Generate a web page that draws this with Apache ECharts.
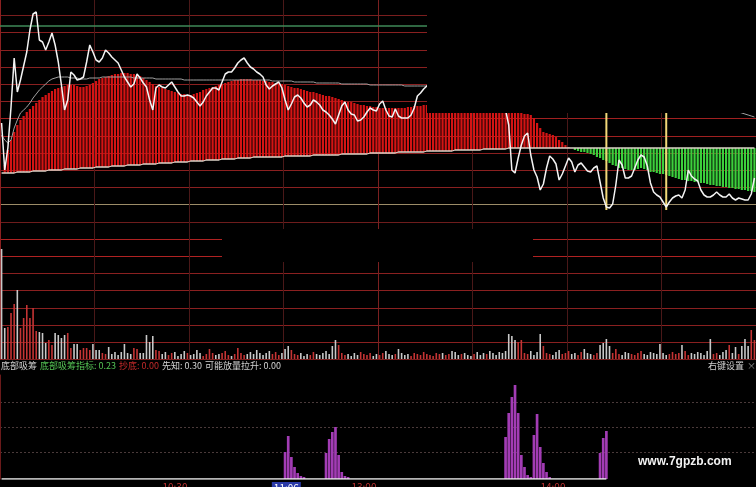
<!DOCTYPE html>
<html><head><meta charset="utf-8">
<script src="https://cdn.jsdelivr.net/npm/echarts/dist/echarts.min.js"></script>
<style>html,body{margin:0;padding:0;background:#000;}#c{width:756px;height:487px;}</style>
</head><body><div id="c"></div>
<script>
// ---- categories: trading minutes ----
const sessionOpenings = ['09:31', '13:01'];
const minutesPerSession = 120;
const times = [];
sessionOpenings.forEach(s => {
  const [h, m] = s.split(':').map(Number);
  for (let k = 0; k < minutesPerSession; k++) {
    const t = h * 60 + m + k;
    times.push(String(Math.floor(t / 60)).padStart(2, '0') + ':' + String(t % 60).padStart(2, '0'));
  }
});
const tickLabels = { '10:30': '10:30', '11:06': '11:06', '11:30': '13:00', '14:00': '14:00' };
const cursorTime = '11:06';

// ---- price panel (levels, larger = lower on screen) ----
const price = [
123,170,148,107,58,92,80,66,52,30,
14,12,40,42,50,42,33,45,62,85,
110,100,72,75,80,79,77,62,45,52,
60,62,58,50,53,57,60,63,70,77,
82,87,84,74,78,83,87,100,110,88,
85,87,88,85,82,87,92,96,96,95,
96,98,102,106,102,96,92,88,88,90,
82,74,72,72,68,63,60,58,63,67,
69,72,74,77,85,89,86,84,82,88,
100,110,104,97,95,98,103,107,105,100,
102,105,110,112,115,119,124,115,106,102,
110,114,115,121,120,117,112,108,110,111,
104,101,110,116,117,109,116,118,118,118,
115,108,96,93,89,86,84,82,80,78,
80,76,74,78,80,82,79,84,86,88,
85,90,92,95,93,98,100,104,106,110,
110,125,170,173,158,145,136,133,155,170,
177,190,184,168,156,159,164,180,174,166,
158,162,172,165,163,167,171,172,168,166,
182,198,207,208,204,185,160,165,178,178,
176,168,160,155,157,166,183,192,195,197,
202,207,202,198,196,195,198,190,170,176,
179,181,190,195,197,197,195,192,195,197,
197,194,198,200,198,199,200,200,194,178];

const avgPrice = [
135,140,143,140,128,120,113,110,107,103,
98,94,90,87,84,81,79,78,77,77,
77,77,78,78,78,79,79,79,78,78,
78,78,77,77,77,77,77,77,77,77,
77,77,78,78,78,78,78,78,78,79,
79,79,79,79,79,79,79,79,80,80,
80,80,80,80,80,80,80,80,80,80,
80,80,80,80,80,80,80,80,80,80,
80,80,80,80,80,80,81,81,81,81,
81,81,81,82,82,82,82,82,82,82,
83,83,83,83,83,83,83,83,84,84,
84,84,84,84,84,84,84,85,85,85,
85,85,85,85,85,85,85,85,86,86,
86,86,86,86,86,86,86,86,87,87,
87,87,88,88,88,88,89,89,89,90,
90,90,91,91,91,92,92,93,93,94,
94,95,95,96,96,97,97,97,98,98,
98,99,99,99,100,100,100,100,101,101,
101,101,102,102,102,102,102,103,103,103,
103,103,104,104,104,104,104,105,105,105,
105,105,105,106,106,106,106,106,107,107,
107,107,107,108,108,108,108,108,109,109,
109,109,109,110,110,110,110,110,111,111,
111,111,112,112,112,113,114,115,116,117];

const costLine = [
173,173,173,173,173,172,172,172,172,172,
171,171,171,171,171,170,170,170,170,170,
169,169,169,169,169,168,168,168,168,168,
167,167,167,167,167,166,166,166,166,166,
165,165,165,165,165,164,164,164,164,164,
163,163,163,163,163,162,162,162,162,162,
161,161,161,161,161,160,160,160,160,160,
159,159,159,159,159,158,158,158,158,158,
157,157,157,157,157,157,157,157,157,157,
156,156,156,156,156,156,156,156,156,155,
155,155,155,155,155,155,155,155,154,154,
154,154,154,154,154,154,154,153,153,153,
153,153,153,153,153,153,152,152,152,152,
152,152,152,152,152,151,151,151,151,151,
151,151,151,151,150,150,150,150,150,150,
150,150,150,149,149,149,149,149,149,149,
149,148,148,148,148,148,148,148,148,148,
148,148,148,148,148,148,148,148,148,148,
148,148,148,148,148,148,148,148,148,148,
148,148,148,148,148,148,148,148,148,148,
148,148,148,148,148,148,148,148,148,148,
148,148,148,148,148,148,148,148,148,148,
148,148,148,148,148,148,148,148,148,148,
148,148,148,148,148,148,148,148,148,148];

// red accumulation bars: top level (from 09:31)
const redTop = [
173,165,150,140,132,125,120,116,112,109,
106,103,100,97,95,93,91,89,88,87,
86,85,85,85,86,87,87,86,85,83,
81,79,78,77,76,75,74,74,73,73,
73,74,74,75,76,78,80,82,84,86,
87,88,89,90,91,92,93,94,94,95,
95,94,93,92,90,89,88,87,86,85,
84,83,82,81,80,80,79,79,79,79,
80,80,80,81,81,82,82,83,83,84,
85,86,87,88,88,89,90,91,92,92,
93,94,95,96,96,97,98,99,100,101,
102,102,103,104,105,105,106,106,107,107,
108,108,108,108,108,108,108,108,108,107,
107,106,106,106,105,105,104,103,103,102,
102,101,101,101,100,100,100,100,101,101,
102,102,103,104,105,106,107,108,109,110,
111,112,112,113,113,113,114,114,115,118,
123,128,132,133,134,135,137,140,142,145,
147,148];

// green distribution bars: bottom level (from 14:02)
const greenStartTime = '14:02';
const greenBottom = [
148,150,151,152,152,153,154,155,157,158,
160,161,163,165,166,168,168,169,170,170,
170,169,168,169,170,172,172,173,174,174,
175,176,177,178,179,180,180,181,181,182,
182,183,183,184,185,185,186,186,187,187,
188,188,189,189,190,190,191,191,192];

// yellow signal markers
const signalTimes = ['14:13', '14:32'];
const signalLevels = [210, 210];
const greenRefLevel = 26;

// ---- volume ----
const volume = [
110,31,32,46,55,69,31,41,54,41,
51,28,27,26,16,19,14,26,24,21,
24,26,11,15,15,9,11,11,9,15,
9,9,6,5,12,5,7,4,7,15,
6,5,11,10,6,6,24,17,23,9,
8,5,7,4,6,7,3,5,8,6,
4,5,9,6,3,5,10,6,4,5,
6,8,4,3,5,11,6,4,5,7,
5,9,6,4,6,8,5,7,4,6,
10,13,9,5,4,6,3,5,4,7,
5,4,6,8,5,13,19,14,6,4,
5,3,6,4,7,5,4,6,3,5,
4,6,8,5,4,5,10,6,4,5,
3,6,5,4,7,5,4,3,6,5,
6,4,5,8,7,4,5,6,4,3,
5,7,4,6,5,8,6,4,7,6,
8,25,23,19,17,19,6,5,8,4,
7,25,13,6,5,4,7,9,5,6,
8,5,6,4,7,10,6,5,4,6,
14,16,20,13,6,10,5,4,7,6,
5,4,6,8,5,4,7,6,5,15,
6,4,5,7,5,6,14,8,4,6,
5,7,6,4,8,20,5,6,4,7,
9,14,6,12,5,13,20,13,29,19];

// ---- lower indicator ----
const bottomSignal = [
0,0,0,0,0,0,0,0,0,0,
0,0,0,0,0,0,0,0,0,0,
0,0,0,0,0,0,0,0,0,0,
0,0,0,0,0,0,0,0,0,0,
0,0,0,0,0,0,0,0,0,0,
0,0,0,0,0,0,0,0,0,0,
0,0,0,0,0,0,0,0,0,0,
0,0,0,0,0,0,0,0,0,0,
0,0,0,0,0,0,0,0,0,0,
27,43,22,12,6,3,2,0,0,0,
0,0,0,26,40,47,52,24,7,3,
2,0,0,0,0,0,0,0,0,0,
0,0,0,0,0,0,0,0,0,0,
0,0,0,0,0,0,0,0,0,0,
0,0,0,0,0,0,0,0,0,0,
0,0,0,0,0,0,0,0,0,0,
42,66,82,94,66,24,12,4,2,44,
65,32,16,7,2,0,0,0,0,0,
0,0,0,0,0,0,0,0,0,0,
26,41,48];
const xianzhi = [
0,0,0,0,0,0,0,0,0,0,0,0,0,0,0,0,0,0,0,0,
0,0,0,0,0,0,0,0,0,0,0,0,0,0,0,0,0,0,0,0,
0,0,0,0,0,0,0,0,0,0,0,0,0,0,0,0,0,0,0,0,
0,0,0,0,0,0,0,0,0,0,0,0,0,0,0,0,0,0,0,0,
0,0,0,0,0,0,0,0,0,0,0,0,0,0,0,0,0,0,0,0,
0,0,0,0,0,0,0,0,0,0,0,0,0,0,0,0,0,0,0,0,
0,0,0,0,0,0,0,0,0,0,0,0,0,0,0,0,0,0,0,0,
0,0,0,0,0,0,0,0,0,0,0,0,0,0,0,0,0,0,0,0,
0,0,0,0,0,0,0,0,0,0,0,0,0,0,0,0,0,0,0,0,
0,0,0,0,0,0,0,0,0,0,0,0,0];

const legendItems = [
  ['底部吸筹', '#cfcfcf', 1],
  ['底部吸筹指标: 0.23', '#55c455', 40],
  ['抄底: 0.00', '#c42a2a', 119],
  ['先知: 0.30', '#d4d4d4', 162],
  ['可能放量拉升: 0.00', '#d4d4d4', 205]
];

// ---- build ----
const redData = redTop.map((v, i) => [i, v, costLine[i]]);
const g0 = times.indexOf(greenStartTime);
const greenData = greenBottom.map((v, k) => [g0 + k, costLine[g0 + k], v]);
const signalData = times.map(t => { const k = signalTimes.indexOf(t); return k >= 0 ? signalLevels[k] : null; });

function rectRender(color) {
  return function (params, api) {
    const i = api.value(0);
    const a = api.coord([i, api.value(1)]);
    const b = api.coord([i, api.value(2)]);
    const w = api.size([1, 0])[0] * 0.7;
    return { type: 'rect', shape: { x: a[0] - w / 2, y: Math.min(a[1], b[1]), width: w, height: Math.abs(b[1] - a[1]) }, style: { fill: color } };
  };
}

const hColors = ['#8a2020','#8a2020','#8a2020','#8a2020','#8a2020','#b02222','#b02222','#6e1c1c','#9c8c68','#8a2020',
                 '#8a2020','#8a2020','#a02020','#a02020','#8a2020','#8a2020','#8a2020','#8a2020','#8a2020','#7a1e1e'];
const vColors = ['#8a2020','#4a1818','#4a1818','#4a1818','#7a2020','#4a1818','#4a1818','#4a1818'];
const font = '"Noto Sans CJK SC","Noto Sans",sans-serif';

const hiddenAxis = { axisLine: { show: false }, axisTick: { show: false }, axisLabel: { show: false }, splitLine: { show: false } };
const gridBase = { left: 0, right: 0, containLabel: false, outerBoundsMode: 'none' };

const chart = echarts.init(document.getElementById('c'));
chart.setOption({
  backgroundColor: '#000',
  animation: false,
  grid: [
    Object.assign({ top: 15.5, height: 326.8 }, gridBase),
    Object.assign({ top: 0, height: 360 }, gridBase),
    Object.assign({ top: 249, height: 110 }, gridBase),
    Object.assign({ top: 375, height: 104 }, gridBase),
    Object.assign({ top: 402, height: 50 }, gridBase)
  ],
  xAxis: [
    Object.assign({ gridIndex: 0, type: 'category', data: times }, hiddenAxis),
    { gridIndex: 1, type: 'category', data: times, axisLine: { show: false }, axisTick: { show: false }, axisLabel: { show: false },
      splitLine: { show: true, interval: (i) => i % 30 === 0, lineStyle: { color: vColors, width: 1 } } },
    { gridIndex: 2, type: 'category', data: times, axisLine: { show: true, lineStyle: { color: '#7a1e1e' } }, axisTick: { show: false }, axisLabel: { show: false }, splitLine: { show: false } },
    { gridIndex: 3, type: 'category', data: times, axisLine: { show: false }, axisTick: { show: false }, splitLine: { show: false },
      axisLabel: { show: true, interval: (i, v) => v in tickLabels, align: 'right', margin: 3,
        formatter: v => v === cursorTime ? '{c|' + tickLabels[v] + '}' : '{t|' + tickLabels[v] + '}',
        rich: { c: { color: '#ffffff', backgroundColor: '#2a3aa8', padding: [1, 2, 0, 2], fontSize: 10, fontFamily: font },
                t: { color: '#b83030', fontSize: 10, fontFamily: font } } } },
    Object.assign({ gridIndex: 4, type: 'category', data: times }, hiddenAxis)
  ],
  yAxis: [
    { gridIndex: 0, type: 'value', min: 0, max: 19, interval: 1, axisLine: { show: false }, axisTick: { show: false }, axisLabel: { show: false },
      splitLine: { show: true, lineStyle: { color: hColors, width: 1 } } },
    Object.assign({ gridIndex: 1, type: 'value', min: 0, max: 360, inverse: true }, hiddenAxis),
    Object.assign({ gridIndex: 2, type: 'value', min: 0, max: 110 }, hiddenAxis),
    { gridIndex: 3, type: 'value', min: 0, max: 104, axisLine: { show: true, lineStyle: { color: '#6a1a1a' } }, axisTick: { show: false }, axisLabel: { show: false }, splitLine: { show: false } },
    { gridIndex: 4, type: 'value', min: 0, max: 2, interval: 1, axisLine: { show: false }, axisTick: { show: false }, axisLabel: { show: false },
      splitLine: { show: true, lineStyle: { color: '#4a3a3a', type: [2, 2] } } }
  ],
  series: [
    { type: 'line', xAxisIndex: 0, yAxisIndex: 0, data: [] },
    { type: 'line', xAxisIndex: 4, yAxisIndex: 4, data: [] },
    { type: 'custom', xAxisIndex: 1, yAxisIndex: 1, renderItem: rectRender('#d41414'), data: redData, z: 2 },
    { type: 'custom', xAxisIndex: 1, yAxisIndex: 1, renderItem: rectRender('#3ccf3c'), data: greenData, z: 2 },
    { type: 'bar', xAxisIndex: 1, yAxisIndex: 1, data: signalData, barWidth: 2, itemStyle: { color: '#f2d878' }, z: 3 },
    { type: 'line', xAxisIndex: 1, yAxisIndex: 1, data: costLine, symbol: 'none', lineStyle: { color: '#ddd4c8', width: 1.3 }, z: 4 },
    { type: 'line', xAxisIndex: 1, yAxisIndex: 1, data: avgPrice, symbol: 'none', lineStyle: { color: '#a0a0a0', width: 1 }, z: 4 },
    { type: 'line', xAxisIndex: 1, yAxisIndex: 1, data: price, symbol: 'none', lineStyle: { color: '#f4f4f4', width: 1.5 }, z: 5,
      markLine: { silent: true, symbol: 'none', label: { show: false }, lineStyle: { color: '#3f8a58', width: 1.5, type: 'solid' }, data: [{ yAxis: greenRefLevel }] } },
    { type: 'bar', xAxisIndex: 2, yAxisIndex: 2, data: volume, barWidth: 1.6,
      itemStyle: { color: p => (p.dataIndex > 0 && price[p.dataIndex] < price[p.dataIndex - 1]) ? '#c43434' : '#c8c8c8' } },
    { type: 'bar', xAxisIndex: 3, yAxisIndex: 3, data: bottomSignal, barWidth: '85%', itemStyle: { color: '#a23cb4' } },
    { type: 'line', xAxisIndex: 3, yAxisIndex: 3, data: xianzhi, symbol: 'none', lineStyle: { color: '#f0f0f0', width: 1.5 }, z: 4 }
  ],
  graphic: [
    { type: 'rect', left: 427, top: 0, z: 50, shape: { width: 329, height: 113 }, style: { fill: '#000' } },
    { type: 'rect', left: 222, top: 229, z: 50, shape: { width: 311, height: 33 }, style: { fill: '#000' } },
    ...legendItems.map(([t, c, x]) => ({ type: 'text', left: x, top: 361, z: 60, style: { text: t, fill: c, font: '9px ' + font } })),
    { type: 'text', left: 708, top: 361, z: 60, style: { text: '右键设置', fill: '#d0d0d0', font: '9px ' + font } },
    { type: 'text', left: 747, top: 361, z: 60, style: { text: '×', fill: '#909090', font: '9px ' + font } },
    { type: 'text', left: 638, top: 456, z: 60, style: { text: 'www.7gpzb.com', fill: '#f2f2f2', font: 'bold 12px "Liberation Sans", Arial, sans-serif' } }
  ]
});
</script></body></html>
